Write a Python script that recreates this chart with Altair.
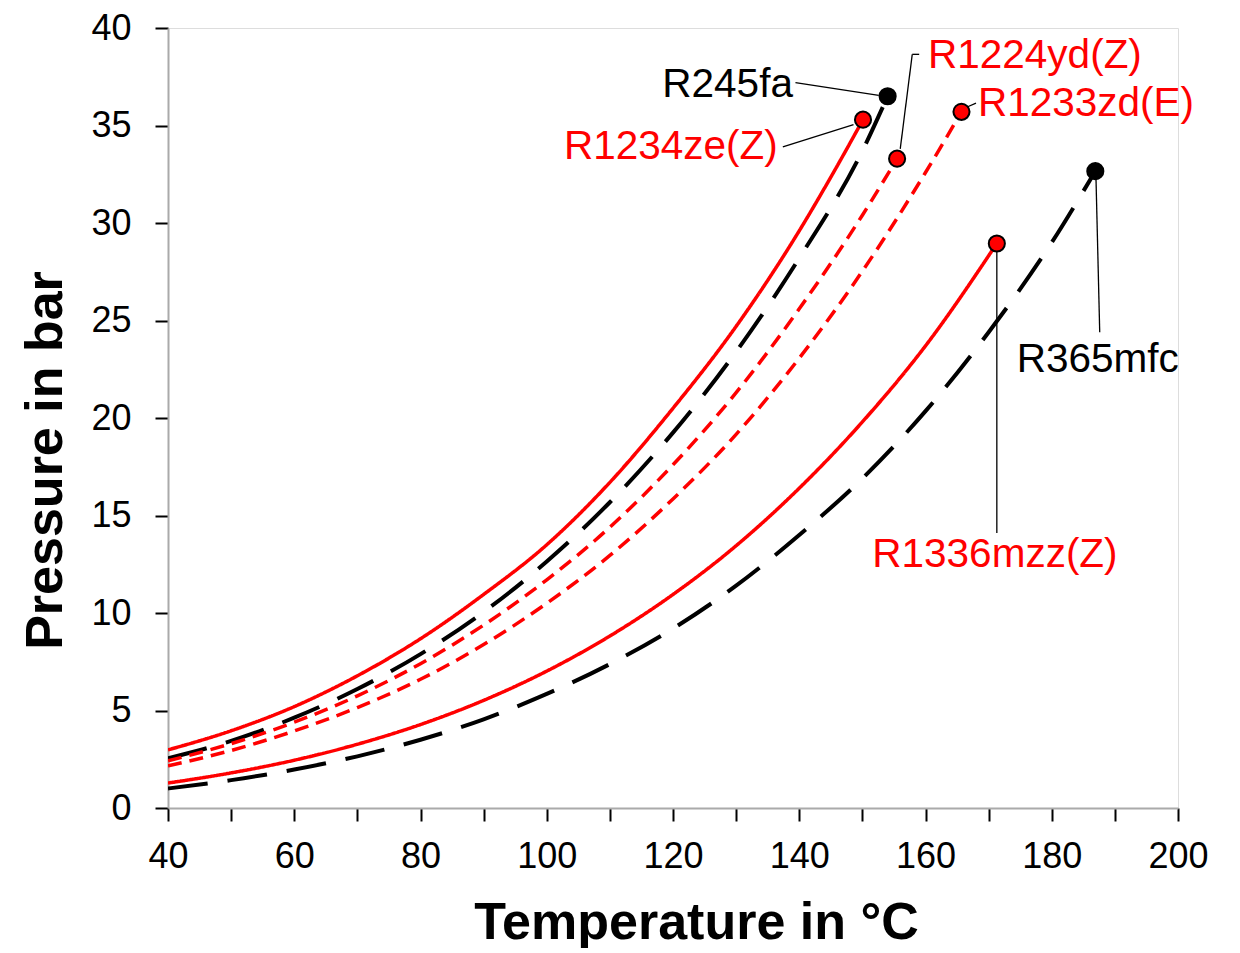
import altair as alt
import pandas as pd

# Temperatures (°C) and saturation pressures (bar)
T_R1234ze = [40, 50, 60, 70, 80, 90, 100, 110, 120, 130, 140, 145, 150.1]
P_R1234ze = [2.98, 3.96, 5.2, 6.78, 8.68, 10.95, 13.5, 16.7, 20.5, 24.7, 29.6, 32.35, 35.3]

T_R245fa = [40, 50, 60, 70, 80, 90, 100, 110, 120, 130, 140, 150, 154.0]
P_R245fa = [2.55, 3.44, 4.63, 6.10, 7.89, 10.05, 12.64, 15.68, 19.25, 23.4, 28.2, 33.7, 36.5]

T_R1224yd = [40, 50, 60, 70, 80, 90, 100, 110, 120, 130, 140, 150, 155.5]
P_R1224yd = [2.42, 3.3, 4.4, 5.75, 7.4, 9.38, 11.7, 14.4, 17.6, 21.3, 25.6, 30.4, 33.3]

T_R1233zd = [40, 50, 60, 70, 80, 90, 100, 110, 120, 130, 140, 150, 160, 165.7]
P_R1233zd = [2.16, 2.95, 3.95, 5.15, 6.6, 8.38, 10.5, 12.95, 15.85, 19.16, 23.07, 27.53, 32.59, 35.7]

T_R1336mzz = [40, 50, 60, 70, 80, 90, 100, 110, 120, 130, 140, 150, 160, 171.3]
P_R1336mzz = [1.28, 1.8, 2.45, 3.27, 4.28, 5.52, 7.02, 8.82, 10.95, 13.45, 16.4, 19.8, 23.7, 28.95]

T_R365mfc = [40, 50, 60, 70, 80, 90, 100, 110, 120, 130, 140, 150, 160, 170, 180, 186.9]
P_R365mfc = [1.0, 1.43, 1.97, 2.65, 3.5, 4.55, 5.85, 7.38, 9.2, 11.4, 14.0, 16.9, 20.35, 24.4, 29.0, 32.66]

fluids = ["R1234ze(Z)", "R245fa", "R1224yd(Z)", "R1233zd(E)", "R1336mzz(Z)", "R365mfc"]
series_T = [T_R1234ze, T_R245fa, T_R1224yd, T_R1233zd, T_R1336mzz, T_R365mfc]
series_P = [P_R1234ze, P_R245fa, P_R1224yd, P_R1233zd, P_R1336mzz, P_R365mfc]

RED = "#ff0000"
BLACK = "#000000"
styles = {
    "R1234ze(Z)": (RED, [1, 0], 3.5),
    "R245fa": (BLACK, [40, 20], 4),
    "R1224yd(Z)": (RED, [14, 8], 3.5),
    "R1233zd(E)": (RED, [14, 8], 3.5),
    "R1336mzz(Z)": (RED, [1, 0], 3.5),
    "R365mfc": (BLACK, [40, 20], 4),
}

# annotation labels: text, anchor T, anchor P, align, colour
label_text = ["R245fa", "R1234ze(Z)", "R1224yd(Z)", "R1233zd(E)", "R365mfc", "R1336mzz(Z)"]
label_T = [139.0, 136.6, 160.4, 168.3, 187.3, 171.0]
label_P = [37.1, 33.9, 38.55, 36.1, 23.0, 13.0]
label_align = ["right", "right", "left", "left", "center", "center"]
label_color = [BLACK, RED, RED, RED, BLACK, RED]

# leader lines (T1, P1) -> (T2, P2)
lead_T1 = [139.4, 137.4, 159.0, 166.6, 187.0, 171.3, 157.9]
lead_P1 = [37.2, 33.9, 38.65, 35.95, 32.4, 28.7, 38.65]
lead_T2 = [152.6, 148.6, 157.9, 168.0, 187.6, 171.3, 156.0]
lead_P2 = [36.55, 35.05, 38.65, 36.15, 24.4, 14.1, 33.8]

xscale = alt.Scale(domain=[40, 200], nice=False, zero=False)
yscale = alt.Scale(domain=[0, 40], nice=False)

xaxis = alt.Axis(
    values=list(range(40, 201, 10)),
    labelExpr="datum.value % 20 == 0 ? datum.label : ''",
    labelFlush=False, labelOverlap=False,
    title="Temperature in °C",
    titleFontSize=52, titleFontWeight="bold", titleFont="Liberation Sans",
    titleX=528, titleY=114, titleBaseline="middle", titleAnchor="middle", titleColor="#000000",
    labelFontSize=36, labelFont="Liberation Sans", labelColor="#000000",
    labelPadding=18, tickSize=13, tickWidth=2, tickColor="#000000",
    domainColor="#aaaaaa", domainWidth=2, grid=False,
)
yaxis = alt.Axis(
    values=list(range(0, 41, 5)),
    labelFlush=False, labelOverlap=False,
    title="Pressure in bar",
    titleFontSize=52, titleFontWeight="bold", titleFont="Liberation Sans",
    titleX=-123, titleY=432, titleAngle=-90, titleBaseline="middle", titleAlign="center",
    titleColor="#000000",
    labelFontSize=36, labelFont="Liberation Sans", labelColor="#000000",
    labelPadding=24, tickSize=13, tickWidth=2, tickColor="#000000",
    domainColor="#aaaaaa", domainWidth=2, grid=False,
)

def X(field):
    return alt.X(field, scale=xscale, axis=xaxis)

def Y(field):
    return alt.Y(field, scale=yscale, axis=yaxis)

layers = []
for name, ts, ps in zip(fluids, series_T, series_P):
    color, dash, sw = styles[name]
    df = pd.DataFrame({"T": ts, "P": ps, "fluid": name})
    line = alt.Chart(df).mark_line(
        color=color, strokeWidth=sw, strokeDash=dash, interpolate="monotone", clip=True
    ).encode(x=X("T:Q"), y=Y("P:Q"))
    layers.append(line)

end_df = pd.DataFrame({
    "T": [s[-1] for s in series_T],
    "P": [s[-1] for s in series_P],
    "fill": [styles[n][0] for n in fluids],
})
dots = alt.Chart(end_df).mark_point(
    shape="circle", filled=True, size=260, stroke="#000000", strokeWidth=2, opacity=1
).encode(
    x=X("T:Q"), y=Y("P:Q"),
    fill=alt.Fill("fill:N", scale=None),
)

lead_df = pd.DataFrame({"T1": lead_T1, "P1": lead_P1, "T2": lead_T2, "P2": lead_P2})
leaders = alt.Chart(lead_df).mark_rule(color="#000000", strokeWidth=1.3).encode(
    x=X("T1:Q"), y=Y("P1:Q"), x2="T2:Q", y2="P2:Q",
)

lab_df = pd.DataFrame({
    "T": label_T, "P": label_P, "text": label_text,
    "align": label_align, "color": label_color,
})
text_layers = []
for al in ["left", "right", "center"]:
    sub = lab_df[lab_df["align"] == al]
    text_layers.append(
        alt.Chart(sub).mark_text(
            align=al, baseline="middle", fontSize=40.5, font="Liberation Sans"
        ).encode(
            x=X("T:Q"), y=Y("P:Q"),
            text="text:N", color=alt.Color("color:N", scale=None),
        )
    )

chart = alt.layer(*layers, leaders, dots, *text_layers).properties(
    width=1010, height=780,
    autosize=alt.AutoSizeParams(type="none"),
    padding={"left": 160, "top": 20, "right": 50, "bottom": 140},
).configure_view(stroke="#777777", strokeWidth=2).configure(background="white")

chart.save("out.html", embed_options={"renderer": "svg", "actions": False})
